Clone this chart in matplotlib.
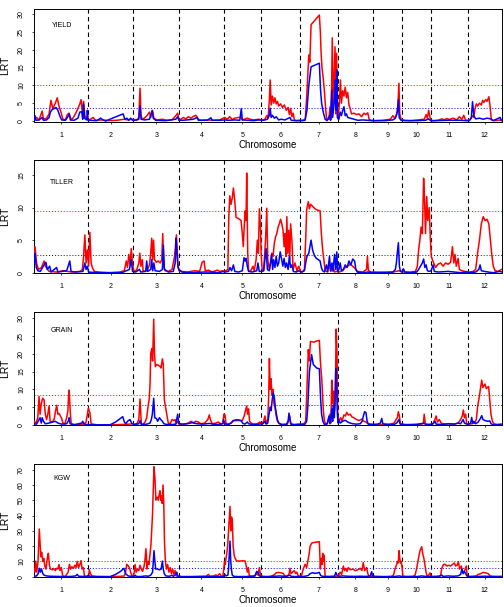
import numpy as np
import matplotlib
matplotlib.use("Agg")
import matplotlib.pyplot as plt

plt.rcParams['font.family'] = ['Liberation Sans', 'DejaVu Sans']

# 水稻12条染色体长度 (Mb)
chrom_len = [43.3, 35.9, 36.4, 35.5, 29.9, 31.2, 29.7, 28.4, 23.0, 23.2, 29.0, 27.5]
chrom_names = [str(i) for i in range(1, 13)]

# 每个性状: (累计位置 Mb, LRT)
yield_red = [(0, 0.5), (2, 1.0), (4, 0.3), (6.5, 2.8), (7.5, 0.5), (10, 0.8), (12, 2.0), (13.5, 5.8), (15, 3.5),
             (17, 5.0), (18.5, 6.5), (20, 4.0), (21.5, 2.5), (23, 0.5), (25, 0.3), (26.5, 1.8), (28, 2.2), (29.5, 0.3),
             (31, 0.8), (33, 2.0), (35, 3.5), (36.5, 4.8), (37.5, 6.0), (38.5, 2.5), (39.5, 5.5), (40.5, 1.5),
             (41.5, 0.8), (43, 0.3),
             (45, 0.5), (47, 1.0), (49, 0.2), (55, 0.3), (60, 0.1), (66, 0.2), (72, 0.5), (75, 0.3), (78, 0.5),
             (80, 0.3), (82, 0.2), (83.5, 1.0), (84.5, 9.2), (85.2, 2.0), (86, 0.5), (88, 0.8), (90, 1.5), (92, 2.5),
             (93, 1.0), (94.5, 2.8), (95.5, 0.8), (98, 0.3), (102, 0.5), (106, 0.2), (110, 0.3), (113, 1.5),
             (114.5, 2.2), (115.5, 0.3),
             (117, 0.5), (119, 1.0), (121, 0.6), (123, 1.2), (125, 0.8), (127, 1.3), (129, 1.6), (131, 0.5),
             (133, 0.2), (138, 0.3), (143, 0.2), (148, 0.3),
             (152, 1.0), (154, 0.5), (156, 1.2), (158, 0.4), (160, 0.8), (163, 1.0), (165, 1.0), (166, 0.3),
             (170, 0.8), (172, 0.5), (175, 0.3), (179, 0.5),
             (182, 0.2), (184, 0.5), (185.5, 1.5), (186.5, 0.8), (187.5, 5.5), (188.2, 11.5), (189, 4.5), (190, 7.0),
             (191, 5.0), (192, 6.5), (193, 4.8), (194, 5.5), (195, 4.2), (196.5, 4.8), (198, 3.8), (199.5, 4.5),
             (201, 3.0), (202.5, 3.8), (203.5, 1.8), (204.5, 3.5), (205.5, 1.2), (206.5, 2.2), (207.5, 0.3),
             (209, 0.1), (211, 0.2),
             (213, 0.2), (215, 0.3), (216.2, 0.5), (217.5, 8.0), (219, 18.5), (219.8, 16.5), (220.8, 27.0),
             (227.4, 29.7), (228.2, 25.0), (228.8, 19.0), (229.5, 15.0), (230.5, 12.0), (231.5, 8.0), (232.5, 3.0),
             (233.3, 0.3), (235, 0.5), (236, 4.0), (236.8, 0.5), (237.7, 23.3), (238.4, 3.0), (239.2, 12.0),
             (239.9, 20.8), (240.5, 2.0), (241.2, 19.0), (241.8, 1.0),
             (242.5, 0.5), (243.5, 6.0), (244.2, 11.5), (245, 5.0), (246, 8.5), (247, 7.0), (248, 9.5), (249, 6.5),
             (250, 8.0), (251, 4.5), (252, 3.5), (253, 2.0), (255, 2.2), (257, 1.8), (259, 2.0), (261, 1.2),
             (263, 2.2), (264.5, 1.8), (266, 2.3), (267, 0.5), (268.5, 0.2),
             (272, 0.1), (278, 0.2), (284, 0.5), (286, 1.5), (287.5, 0.8), (289, 1.8), (290, 4.0), (290.8, 10.6),
             (291.5, 2.0), (292.5, 0.5),
             (295, 0.2), (300, 0.1), (306, 0.3), (311, 0.5), (312.5, 1.8), (313.5, 0.8), (314.5, 3.0), (315.5, 1.2),
             (316.3, 0.2),
             (318, 0.1), (322, 0.2), (325, 0.6), (327, 0.3), (329, 0.7), (331, 0.4), (334, 0.8), (337, 0.3),
             (339, 1.2), (341, 0.5), (342.5, 1.6), (344, 0.2),
             (346, 0.2), (348, 0.5), (349.5, 1.5), (350.5, 1.0), (351.5, 3.5), (352.5, 4.8), (353.5, 4.2), (355, 5.0),
             (356.5, 4.5), (357.5, 5.8), (358.5, 5.2), (360, 6.0), (361, 5.5), (362.5, 6.8), (363.5, 4.0),
             (364.5, 0.3), (367, 0.1), (370, 0.2), (372.5, 0.3)]
yield_blue = [(0, 0.2), (0.8, 1.5), (1.5, 0.2), (4, 0.3), (6.5, 1.0), (7.5, 0.2), (10, 0.3), (12, 1.0), (13, 2.5),
              (14.5, 3.2), (16, 3.5), (17.5, 3.8), (19, 3.0), (20.5, 1.5), (22, 0.3), (25, 0.2), (27, 1.2), (28, 2.0),
              (29, 0.3), (32, 0.2), (35, 0.8), (36.5, 2.5), (38, 2.6), (38.8, 0.5), (39.5, 4.8), (40.2, 0.8),
              (42, 0.3), (42.5, 3.0), (43.2, 0.2),
              (50, 0.1), (53, 0.8), (55, 0.3), (57, 0.0), (71, 2.0), (72.5, 0.4), (74, 0.8), (75.5, 0.2), (77, 0.8),
              (78.5, 0.2),
              (80, 0.2), (83.5, 0.5), (84.5, 4.3), (85.3, 0.5), (88, 0.3), (92, 0.5), (94.2, 3.0), (95, 0.8),
              (97, 0.2), (105, 0.1), (113, 0.5), (114.5, 1.2), (115.5, 0.2),
              (118, 0.2), (122, 0.3), (127, 0.5), (130, 1.0), (131, 0.2), (138, 0.2), (141, 0.9), (142, 0.2),
              (148, 0.2),
              (152, 0.3), (155, 0.2), (160, 0.3), (164, 0.2), (165.2, 3.5), (166, 0.3), (170, 0.2), (175, 0.1),
              (179, 0.3),
              (183, 0.2), (186, 0.5), (187.5, 1.5), (188.2, 3.6), (189, 1.0), (190, 1.6), (191.5, 0.8), (193, 1.2),
              (195, 0.3), (197, 0.5), (200, 0.3), (204, 1.0), (205, 0.2), (208, 0.1),
              (214, 0.1), (216, 0.2), (217.5, 3.0), (219, 10.0), (220.8, 15.2), (227.4, 16.2), (228.3, 9.0),
              (229.2, 5.0), (230.5, 2.5), (232, 0.5), (233.5, 0.1), (235.5, 1.5), (236.3, 0.2), (237.3, 8.7),
              (238, 1.0), (239.5, 6.0), (240.2, 11.5), (240.8, 3.0), (241.3, 14.3), (241.9, 1.0),
              (243, 0.5), (244, 2.5), (245, 1.5), (246, 3.0), (247, 4.0), (248, 1.5), (249, 2.0), (250, 1.0),
              (252, 0.8), (255, 0.5), (258, 0.2), (262, 0.3), (266, 0.2), (269, 0.1),
              (272, 0.1), (280, 0.1), (286, 0.3), (288, 0.8), (289.5, 2.5), (290.4, 6.0), (291, 1.0), (292.5, 0.2),
              (296, 0.1), (305, 0.1), (312, 0.2), (314.5, 0.6), (316, 0.1),
              (320, 0.1), (330, 0.2), (340, 0.2), (344, 0.1),
              (347, 0.1), (348.5, 1.0), (349.5, 5.4), (350.5, 1.5), (352, 0.6), (355, 0.8), (358, 0.5), (361, 0.8),
              (364, 0.6), (366, 0.1), (371.5, 1.0), (372.5, 0.1)]

tiller_red = [(0, 3.0), (0.8, 4.0), (2, 1.5), (3.5, 0.5), (6, 0.8), (8, 1.8), (9, 1.0), (12, 0.2), (18, 0.1),
              (23, 0.3), (30, 0.1), (37, 0.2), (38.5, 0.5), (39.5, 2.5), (40.5, 5.8), (41.5, 1.5), (42.5, 3.5),
              (43.5, 1.0), (44.5, 6.2), (45.5, 1.5), (46.5, 0.8), (48, 0.2),
              (52, 0.1), (60, 0.0), (68, 0.1), (72, 0.3), (73.5, 1.8), (74.5, 0.8), (75.5, 2.8), (76.5, 1.2),
              (77.5, 3.7), (78.5, 1.5), (79.5, 0.3),
              (80.5, 0.2), (82, 0.5), (83.5, 1.5), (84.3, 3.0), (85.2, 1.0), (86.3, 2.0), (87, 0.2), (90, 0.3),
              (92, 1.2), (93, 3.0), (93.8, 5.3), (94.5, 2.0), (95.3, 5.0), (96, 2.0), (97.5, 1.6), (99, 1.8),
              (100.5, 1.5), (101.8, 2.0), (102.6, 6.0), (103.4, 1.0), (104.5, 0.3), (107, 0.2), (110, 0.5),
              (112, 2.5), (113.5, 5.8), (114.5, 1.5), (115.5, 0.3),
              (117, 0.2), (122, 0.1), (128, 0.3), (132, 0.2), (134, 1.6), (135.5, 1.8), (136.5, 0.3), (139, 0.4),
              (142, 0.1), (146, 0.4), (148, 0.2), (150.5, 0.3),
              (151.5, 0.2), (153, 0.3), (154.5, 0.5), (155.2, 8.4), (156, 11.8), (157, 10.5), (158, 11.5),
              (158.9, 13.0), (160, 11.0), (161, 8.5), (163, 8.3), (165, 8.0), (166, 6.0), (166.8, 4.0), (167.5, 7.0),
              (168.3, 9.5), (169, 8.0), (169.5, 15.3), (170.3, 3.0), (171, 0.3), (172.5, 0.2), (174.5, 1.0),
              (175.5, 0.3), (177, 2.0), (178, 5.0), (178.8, 3.0), (179.6, 9.8), (180.5, 7.0),
              (181, 3.0), (181.8, 0.5), (183, 0.3), (184.5, 5.0), (185.5, 9.9), (186.3, 2.0), (187.5, 0.5),
              (188.5, 1.5), (189.5, 3.0), (190.5, 2.5), (191.5, 4.5), (192.5, 5.5), (193.5, 6.0), (194.5, 7.0),
              (195.5, 7.5), (196.5, 8.2), (197.5, 7.5), (198.5, 6.5), (199.3, 4.0), (200, 6.0), (200.8, 2.5),
              (201.5, 8.6), (202.2, 3.0), (203, 6.5), (203.8, 2.0), (204.5, 7.5), (205.5, 5.0), (206.5, 0.5),
              (208, 1.5), (209.5, 0.3), (211, 1.0),
              (212.5, 0.2), (214, 0.1), (215.5, 0.5), (216.5, 5.0), (217.3, 9.7), (218.6, 10.9), (219.5, 9.8),
              (220.5, 10.5), (222, 10.2), (224, 9.8), (226, 9.6), (228, 9.5), (229, 6.0), (230, 3.5), (231, 2.0),
              (232, 0.3), (234, 0.1), (235.4, 1.5), (236.5, 0.2), (238.4, 1.0), (239.5, 0.1), (241, 0.2),
              (243, 0.1), (246, 0.3), (248, 0.8), (250, 1.0), (252, 1.3), (254, 1.0), (256, 0.6), (258, 0.2),
              (262, 0.1), (265, 0.5), (265.7, 2.5), (266.5, 0.3), (269, 0.1),
              (272, 0.1), (280, 0.1), (286, 0.1), (291, 0.3), (293, 0.2),
              (295, 0.1), (300, 0.1), (304, 0.2), (305.5, 1.0), (306.5, 3.5), (307.5, 5.0), (308.5, 7.0),
              (309.5, 6.0), (310.5, 14.5), (311.3, 11.0), (312, 6.0), (313, 11.7), (313.8, 8.0), (315, 10.0),
              (315.8, 5.5), (316.6, 2.5), (317.5, 2.0), (318.5, 1.5),
              (320, 0.8), (322, 1.3), (324, 1.5), (326, 1.0), (328, 1.5), (330, 1.3), (332, 1.6), (333.5, 4.0),
              (334.5, 1.5), (335.5, 2.8), (336.5, 1.0), (338, 2.2), (339, 0.5), (341, 0.3), (343.5, 0.2),
              (347, 0.1), (350, 0.2), (352, 0.5), (353.5, 3.0), (355, 5.0), (356.5, 7.5), (358, 8.6), (359.5, 8.0),
              (361, 8.2), (362.5, 7.5), (363.5, 5.5), (364.7, 3.0), (366, 1.0), (367.5, 0.3), (370, 0.2),
              (372.5, 0.5)]
tiller_blue = [(0, 1.5), (0.8, 3.0), (1.8, 0.8), (3, 0.3), (5, 0.2), (8, 1.2), (9.5, 1.6), (10.5, 0.5),
               (12.5, 1.0), (13.5, 0.1), (18, 0.8), (19, 0.1), (26, 0.3), (27.5, 1.2), (28.5, 1.8), (29.5, 0.2),
               (33, 0.1), (39, 0.2), (40.5, 1.5), (41.5, 0.5), (42.5, 1.0), (43.5, 0.1),
               (50, 0.0), (60, 0.0), (70, 0.0), (76, 0.5), (77.5, 2.0), (78.5, 0.2),
               (81, 0.1), (84, 0.5), (85, 0.1), (89, 0.2), (89.8, 1.8), (90.6, 0.2), (93, 0.5), (93.8, 2.0),
               (94.6, 0.3), (95.5, 1.5), (96.5, 0.3), (100, 0.2), (102.3, 0.5), (103.1, 4.2), (103.9, 0.5),
               (107, 0.1), (111, 0.2), (112.5, 1.5), (113.3, 5.3), (114, 3.0), (114.8, 0.8), (115.5, 0.5),
               (118, 0.1), (125, 0.0), (135, 0.1), (140, 0.1), (148, 0.0), (150.5, 0.2),
               (152, 0.1), (155, 0.2), (156.2, 0.8), (157.5, 0.3), (158.9, 1.2), (160, 0.2), (163, 0.1), (166, 0.3),
               (167.4, 2.3), (168.3, 1.8), (169, 2.2), (170, 1.0), (171, 0.2), (174, 0.1), (177.5, 0.3),
               (178.5, 1.5), (179.5, 0.2),
               (181.5, 0.2), (183, 0.3), (185, 3.7), (186, 0.5), (187.5, 0.3), (188.5, 1.5), (189.4, 2.8),
               (190.2, 0.5), (191, 2.0), (192, 0.8), (193, 2.5), (194, 1.0), (195, 1.5), (196.2, 3.2), (197.4, 2.0),
               (198.3, 1.0), (199.3, 2.2), (200.3, 0.8), (201.3, 1.5), (202.5, 0.5), (203.5, 2.5), (204.5, 0.8),
               (205.5, 1.2), (206.7, 0.2), (209, 0.1), (211, 0.3),
               (213, 0.1), (215.5, 0.3), (216.5, 1.5), (217.5, 2.5), (219, 3.0), (220.8, 5.0), (222, 3.5),
               (223.5, 2.6), (225, 2.2), (226.6, 2.0), (228, 1.8), (229, 0.8), (230, 0.3), (231.5, 0.1), (233, 1.2),
               (234, 0.2), (235.5, 2.5), (236.3, 0.3), (237.5, 1.5), (238.3, 0.2), (239.5, 2.8), (240.5, 0.5),
               (241.3, 3.2), (242, 0.2),
               (243, 0.5), (244, 1.5), (245, 0.3), (246.5, 0.5), (248, 1.2), (249.5, 0.8), (251, 1.8), (252.5, 1.2),
               (254, 2.1), (255.5, 1.8), (256.5, 0.5), (257.5, 0.1), (262, 0.0), (266, 0.1), (269, 0.0),
               (272, 0.0), (280, 0.0), (286, 0.1), (288, 0.5), (288.8, 1.5), (289.5, 3.0), (290.4, 4.6),
               (291.2, 1.0), (292, 0.2), (293.3, 0.1),
               (294.4, 0.6), (295.5, 0.1), (300, 0.0), (305, 0.1), (306.5, 0.5), (308, 1.0), (309.5, 1.5),
               (310.5, 2.1), (311.5, 0.8), (312.5, 1.2), (313.5, 0.3), (315, 0.2), (316.5, 0.3), (318, 1.2),
               (319, 0.2),
               (322, 0.1), (330, 0.2), (335, 0.1), (340, 0.0), (345, 0.1),
               (347, 0.0), (352, 0.1), (354.5, 0.5), (355.5, 1.2), (356.5, 0.3), (359, 0.2), (362, 0.1), (366, 0.0),
               (371, 0.2), (373, 0.1)]

grain_red = [(0, 1.0), (1.5, 0.5), (3, 2.0), (4, 8.0), (4.8, 3.0), (5.8, 6.0), (6.9, 7.5), (8, 7.0), (9, 3.0),
             (10, 1.5), (11, 3.0), (12, 5.3), (12.8, 1.0), (14.5, 0.8), (16, 1.5), (17.2, 4.0), (18.1, 5.5),
             (19, 3.0), (20, 3.2), (21, 2.5), (22, 1.8), (23, 0.5), (24.5, 0.2), (26, 2.0), (27, 4.0), (27.5, 8.0),
             (28, 9.8), (28.8, 4.0), (29.6, 0.3), (32, 0.1), (37, 0.1), (40, 0.3), (41.5, 0.8), (42.5, 3.0),
             (43.3, 4.7), (44.5, 3.5), (45.5, 0.3),
             (50, 0.0), (60, 0.0), (70, 0.1), (76, 0.2), (78.5, 0.3),
             (80, 0.2), (82, 0.3), (83.5, 1.5), (84.5, 7.3), (85.5, 0.3), (87, 0.2), (88.5, 0.8), (89.8, 2.0),
             (90.8, 5.0), (91.9, 7.5), (92.5, 12.0), (93, 20.0), (93.8, 21.5), (94.5, 18.0), (95.4, 29.8),
             (96, 20.0), (96.7, 16.4), (97.8, 17.0), (99, 16.8), (100.4, 16.5), (101.2, 16.0), (102.3, 18.6),
             (103, 17.0), (103.9, 7.0), (104.8, 5.0), (105.8, 3.0), (107, 0.5), (108.5, 0.3), (110, 1.5),
             (111.5, 1.2), (112.5, 1.5), (113.5, 0.4), (114.8, 1.0), (115.5, 0.2),
             (117, 0.1), (120, 0.2), (123, 0.5), (125, 1.0), (127, 0.6), (129, 1.0), (131, 0.8), (133, 0.3),
             (136, 0.5), (138.5, 1.5), (139.7, 2.8), (140.5, 1.5), (142, 0.3), (145, 0.5), (147, 0.8), (149, 0.2),
             (150.5, 0.5),
             (151.3, 3.0), (152.2, 2.8), (153, 0.3), (155, 0.2), (157, 0.5), (158.6, 1.2), (162, 1.2), (166, 1.2),
             (167.5, 2.5), (168.5, 4.0), (169.5, 5.3), (170.2, 3.0), (171, 4.5), (171.8, 1.0), (173, 0.5),
             (175, 0.2), (178, 0.3), (180, 0.8),
             (181.5, 0.3), (183, 1.0), (184, 2.5), (185, 0.5), (186.3, 1.5), (187, 8.0), (187.6, 18.7),
             (188.2, 10.0), (188.9, 13.0), (189.6, 8.5), (190.4, 10.0), (191.2, 6.0), (192, 5.0), (193, 2.5),
             (194, 1.0), (195.5, 0.3), (198, 0.1), (202, 0.2), (203, 1.5), (203.8, 2.5), (204.5, 0.3), (207, 0.1),
             (210, 0.2),
             (213, 0.2), (215, 0.3), (216.5, 1.0), (217.3, 8.0), (218, 15.0), (218.6, 21.2), (219.4, 18.0),
             (220.3, 23.5), (223, 23.3), (225, 23.6), (227.4, 23.8), (228.2, 18.0), (229.3, 13.0), (230, 8.0),
             (230.6, 4.0), (231.5, 1.0), (232.5, 0.2), (234, 0.5), (235.9, 3.0), (236.6, 0.5), (237.3, 12.6),
             (238.1, 6.0), (238.8, 9.5), (239.6, 4.0), (240.2, 10.0), (240.8, 27.0), (241.5, 20.0), (242, 3.0),
             (243, 1.0), (244.5, 2.0), (245.5, 1.0), (247, 2.8), (248.2, 2.5), (249.2, 3.5), (250.5, 2.8),
             (252, 3.0), (253.5, 2.2), (255, 2.0), (257, 1.5), (259, 1.2), (261, 1.6), (263, 1.0), (264.5, 0.8),
             (266, 0.3), (268, 0.2),
             (272, 0.1), (278, 0.1), (284, 0.2), (287, 0.5), (288.5, 1.5), (289.5, 2.0), (290.4, 3.7),
             (291.2, 2.5), (292, 0.4), (293, 0.2),
             (296, 0.1), (302, 0.1), (308, 0.2), (310.2, 0.3), (311, 3.0), (311.8, 0.3), (314, 0.1), (316.5, 0.2),
             (318, 0.3), (319.5, 1.5), (320.5, 2.5), (321.5, 0.8), (323, 1.5), (324.5, 0.5), (327, 0.2),
             (331, 0.3), (335, 0.2), (338, 0.5), (340, 1.5), (341.3, 2.5), (342.2, 4.2), (343, 2.0), (344, 3.0),
             (344.8, 0.3),
             (346, 0.2), (349, 0.3), (351, 0.5), (352.5, 1.5), (353.5, 5.0), (354.9, 8.0), (355.7, 10.0),
             (356.8, 12.6), (357.7, 10.5), (358.5, 11.0), (359.4, 11.5), (360.5, 10.2), (361.5, 10.6),
             (362.3, 10.8), (363.2, 7.0), (364.2, 3.0), (365.3, 1.0), (366.6, 0.3), (369, 0.1), (372.5, 0.2)]
grain_blue = [(0, 0.3), (2, 0.2), (4, 1.5), (4.8, 2.0), (5.8, 0.5), (6.5, 2.0), (7.5, 1.0), (9, 0.3), (12, 0.5),
              (15, 0.8), (17, 1.0), (19, 0.5), (22, 0.2), (26, 0.3), (27.5, 1.2), (28, 2.0), (28.8, 0.3), (32, 0.0),
              (38, 0.5), (38.8, 1.0), (39.8, 0.2), (43, 0.1), (45, 0.0),
              (50, 0.0), (60.6, 0.0), (65, 0.8), (68, 1.6), (70.7, 2.3), (72, 0.8), (73.2, 0.3), (74.5, 1.0),
              (76.5, 1.5), (77.8, 0.5), (79, 0.2),
              (80, 0.1), (83.5, 0.3), (84.5, 1.2), (85.5, 0.1), (90, 0.2), (92.5, 0.5), (93.5, 1.5), (94.3, 3.0),
              (95.4, 7.5), (96.2, 2.0), (97.5, 1.8), (98.5, 1.0), (99.9, 2.0), (101, 1.5), (102.3, 1.0),
              (103.5, 0.3), (106, 0.1), (110, 0.1), (113, 0.2), (114.5, 3.0), (115.3, 0.4),
              (118, 0.2), (122, 0.3), (126, 0.6), (130, 0.3), (135, 0.2), (140, 0.4), (142.5, 0.2), (146, 0.1),
              (150.5, 0.3),
              (151, 1.5), (152, 0.3), (155, 0.1), (157, 0.5), (159, 1.2), (161, 1.4), (163, 1.4), (165, 1.2),
              (166.5, 0.4), (168, 0.2), (170, 0.8), (171, 0.3), (174, 0.1), (178, 0.1), (180.5, 0.3),
              (181.5, 0.1), (183, 0.5), (184, 1.0), (185, 0.2), (186.3, 0.5), (187.3, 3.0), (188.3, 5.0),
              (189, 4.0), (189.8, 7.0), (190.7, 9.0), (191.5, 7.8), (192.3, 5.0), (193.2, 3.0), (194, 1.5),
              (195, 0.5), (197, 0.1), (201, 0.1), (202.5, 1.0), (203.2, 3.3), (204, 1.5), (204.8, 0.2), (208, 0.0),
              (211, 0.1),
              (213, 0.1), (216, 0.2), (217.3, 1.0), (218.2, 5.0), (218.8, 10.0), (219.5, 15.0), (220.4, 17.5),
              (221.2, 19.8), (222.6, 17.0), (224, 16.5), (225.3, 16.0), (227.4, 15.8), (228.3, 8.0), (229.2, 3.0),
              (230.2, 1.0), (231.5, 0.1), (233.5, 0.2), (235.1, 2.5), (235.8, 0.3), (236.6, 2.0), (237.3, 4.5),
              (238, 1.0), (238.6, 5.6), (239.3, 2.0), (240, 8.0), (240.5, 15.9), (241.2, 10.0), (241.8, 3.0),
              (242.3, 0.5),
              (243, 1.5), (244, 0.5), (246, 1.0), (248, 1.3), (250, 0.8), (252, 0.5), (254, 0.3), (257, 0.2),
              (260, 0.3), (261.5, 1.0), (262.5, 2.5), (263.5, 3.7), (264.5, 3.5), (265.5, 1.0), (266.5, 0.2),
              (269, 0.1),
              (271, 0.1), (274, 0.2), (276, 0.5), (277.1, 1.8), (278, 0.3), (282, 0.1), (287, 0.1), (289, 0.5),
              (290.8, 1.5), (291.8, 0.2), (293, 0.1),
              (297, 0.0), (305, 0.1), (311, 0.5), (312, 0.1), (316.5, 0.1),
              (318, 0.3), (319.6, 1.0), (320.5, 0.2), (325, 0.1), (330, 0.3), (335, 0.2), (338, 0.5), (340, 0.3),
              (342, 1.5), (343, 0.5), (345, 0.2),
              (346, 0.1), (348, 0.5), (348.8, 2.1), (349.6, 0.5), (350.5, 1.0), (352, 0.3), (354, 0.8),
              (355.8, 1.8), (356.8, 2.6), (357.8, 1.5), (359.5, 1.2), (361.5, 1.0), (363.2, 1.1), (364.3, 0.3),
              (366, 0.0), (372, 0.1)]

kgw_red = [(0, 5.0), (0.8, 3.0), (1.4, 10.2), (2.2, 3.0), (3.2, 10.0), (4.2, 31.2), (4.9, 20.0), (5.4, 13.0),
           (6.1, 16.0), (7, 10.0), (7.8, 12.0), (8.6, 7.0), (9.5, 5.0), (10.6, 12.0), (11.4, 15.3), (12.2, 8.0),
           (13, 5.0), (14.5, 4.5), (15.5, 5.5), (17, 4.0), (18, 5.5), (19, 5.0), (19.9, 8.0), (20.7, 4.0),
           (21.8, 6.0), (22.9, 0.3), (25, 0.2), (27.2, 3.0), (28.2, 8.1), (29.2, 5.0), (30.2, 6.5), (31.5, 5.5),
           (32.5, 7.5), (33.5, 6.0), (34.5, 10.0), (35.5, 6.0), (36.5, 8.0), (37.5, 10.5), (38.3, 5.0),
           (39.3, 6.0), (40.2, 0.5), (42, 0.2),
           (43.5, 0.5), (44.1, 4.5), (45, 2.0), (46, 0.5), (50, 0.2), (60, 0.1), (68, 0.2), (72, 0.5), (73, 3.0),
           (73.9, 8.1), (75.2, 7.0), (76, 6.0), (77, 3.0), (78, 0.5), (79, 0.3),
           (80, 3.0), (80.5, 8.0), (81.5, 3.0), (82.5, 5.0), (83.5, 4.0), (84.5, 7.5), (85.5, 5.0), (86.5, 3.5),
           (87.5, 6.0), (88.3, 10.0), (89.2, 18.3), (90, 5.0), (90.8, 10.0), (91.6, 8.0), (92.5, 15.0),
           (93.2, 21.0), (93.8, 30.0), (94.4, 40.0), (95.1, 60.0), (95.6, 71.9), (96.3, 65.0), (97.2, 50.1),
           (98.2, 52.0), (99, 50.0), (99.8, 54.0), (100.4, 56.2), (101, 50.0), (101.6, 53.0), (102.1, 48.0),
           (102.8, 60.0), (103.4, 48.0), (104, 22.0), (104.7, 10.0), (105.5, 5.0), (106.5, 8.0), (107.5, 3.0),
           (108.5, 6.0), (109.5, 2.0), (110.5, 5.0), (111.5, 1.5), (112.4, 4.0), (113.2, 0.5), (115, 0.3),
           (118, 0.1), (125, 0.1), (132, 0.2), (137, 0.3), (139, 1.5), (140, 0.3), (143, 0.5), (145, 1.2),
           (146, 0.3), (148, 2.0), (149, 0.3), (150.5, 0.2),
           (151.2, 5.0), (151.8, 10.0), (152.4, 8.0), (153, 12.0), (153.6, 15.0), (154.3, 20.0), (154.9, 28.0),
           (155.6, 38.0), (156.2, 46.0), (156.8, 30.0), (157.4, 39.0), (158, 37.0), (158.7, 20.0), (159.5, 14.0),
           (160.3, 12.0), (161.5, 10.3), (164, 10.2), (166, 10.4), (168.2, 10.3), (169, 7.5), (170, 3.0),
           (170.8, 6.0), (171.6, 0.5), (174, 0.2), (176, 0.5), (177.5, 2.0), (178.5, 1.0), (179.6, 6.0),
           (180.5, 1.0),
           (182, 0.2), (186, 0.1), (189, 0.3), (191, 1.0), (193, 2.5), (195, 2.8), (197, 2.5), (198.7, 2.0),
           (200, 0.3), (202, 0.2), (203.3, 2.0), (204, 5.5), (204.8, 2.0), (206, 3.0), (207.5, 4.0), (208.5, 2.0),
           (209.5, 3.0), (210.5, 0.5), (211.5, 0.3),
           (213, 0.3), (214.6, 5.0), (216, 8.1), (217.3, 6.0), (218.6, 12.0), (219.3, 15.0), (220, 19.8),
           (221.3, 22.0), (224, 22.5), (227.4, 22.9), (228.2, 5.0), (228.8, 12.0), (229.5, 8.0), (230.1, 15.3),
           (230.7, 10.0), (231.2, 14.0), (232, 0.3), (234, 0.1), (238, 0.2), (241, 0.3),
           (242.5, 0.3), (243.9, 3.0), (245.2, 1.5), (246.5, 7.0), (247.5, 4.0), (248.5, 5.5), (249.5, 3.5),
           (250.5, 6.0), (252, 4.5), (254, 5.0), (256, 4.0), (258, 4.5), (260, 5.5), (261.3, 4.0), (262.4, 9.2),
           (263.5, 4.0), (265.1, 6.0), (266, 2.0), (267, 0.5), (269, 0.2),
           (271, 0.2), (276, 0.1), (282, 0.1), (286, 0.3), (286.8, 2.0), (287.7, 5.0), (288.5, 7.0), (289, 8.1),
           (289.6, 10.0), (290.3, 9.0), (290.9, 17.0), (291.5, 12.0), (292, 9.0), (292.6, 10.0), (293.2, 7.0),
           (294, 0.2), (298, 0.1), (302, 0.2), (303.7, 1.0), (304.8, 5.0), (306, 10.0), (307.6, 17.0),
           (309, 19.6), (309.8, 15.0), (310.7, 12.0), (311.5, 8.0), (312.4, 3.0), (313.3, 0.3), (314.6, 1.0),
           (315.6, 2.5), (316.3, 0.3),
           (318, 0.1), (322, 0.2), (324, 0.5), (325, 5.5), (326.3, 8.0), (327.6, 8.1), (329, 7.0), (330.5, 7.5),
           (332, 7.0), (333.5, 8.0), (335, 9.0), (336, 7.0), (337.2, 7.5), (338.2, 9.8), (339.2, 5.0),
           (340.5, 7.0), (341.5, 3.0), (343, 3.5), (344.5, 7.0), (345.3, 0.5),
           (347, 0.1), (350, 0.2), (352.5, 0.5), (354, 1.5), (356, 2.0), (358, 2.8), (360, 2.5), (362, 2.0),
           (363.5, 0.5), (365, 0.2), (370, 0.1), (372.5, 0.2)]
kgw_blue = [(0, 0.3), (2, 0.5), (3.3, 2.0), (4.2, 5.5), (5, 3.0), (6, 5.0), (7, 2.0), (8, 1.0), (10, 0.5),
            (13, 0.3), (18, 0.2), (25, 0.1), (30, 0.2), (33, 0.5), (34.5, 1.5), (35.5, 0.3), (38, 0.2), (42, 0.1),
            (43.3, 1.0), (44.5, 0.2), (50, 0.0), (60.6, 0.0), (65, 1.5), (69, 3.5), (71.7, 5.5), (73, 2.0),
            (75, 0.5), (77, 0.3), (79, 0.2),
            (80, 0.2), (80.5, 1.0), (81.5, 0.2), (85, 0.1), (89, 0.5), (91, 0.3), (93, 1.0), (94.5, 3.0),
            (95.6, 17.0), (96.3, 10.0), (97, 5.0), (98.5, 5.0), (100, 4.5), (101.3, 5.0), (102.3, 10.2),
            (103, 5.0), (103.8, 2.0), (105, 0.5), (108, 0.3), (110, 1.0), (111, 0.2), (113, 1.5), (113.7, 3.0),
            (114.5, 0.3),
            (118, 0.0), (125, 0.0), (135, 0.1), (145, 0.0), (150.5, 0.1),
            (151.5, 0.5), (152, 1.5), (153, 0.5), (154.5, 1.0), (155, 5.0), (155.7, 15.0), (156.2, 23.3),
            (156.8, 10.0), (157.3, 5.0), (158, 1.0), (159, 0.3), (162, 0.1), (168, 0.1), (172, 0.2), (176, 0.5),
            (177.5, 3.5), (178.8, 2.5), (179.6, 0.5), (180.5, 0.3),
            (182, 0.1), (186, 0.0), (192, 0.3), (196, 0.5), (200, 0.2), (204, 1.0), (205, 0.2), (209, 0.1),
            (211.5, 0.2),
            (213, 0.1), (216, 0.3), (218.6, 0.8), (220, 2.0), (222, 2.6), (224, 2.2), (226, 2.5), (227.4, 2.8),
            (228.3, 1.0), (229.5, 0.3), (232, 0.1), (236, 0.1), (239.5, 0.3), (240.5, 2.8), (241.5, 1.0),
            (243, 0.3), (246, 0.5), (250, 0.3), (255, 0.2), (260, 0.3), (265, 0.2), (268, 0.5), (269.1, 3.3),
            (269.8, 0.5),
            (272, 0.1), (280, 0.0), (288, 0.2), (291, 0.5), (293, 0.2),
            (296, 0.1), (305, 0.1), (309, 0.5), (312, 0.2), (316, 0.1),
            (318, 0.1), (322, 0.2), (325, 1.0), (326, 0.2), (330, 0.5), (334, 0.3), (338, 0.5), (340, 1.5),
            (341, 5.0), (342, 2.0), (343, 3.5), (344, 2.0), (345, 0.5),
            (347, 0.1), (355, 0.2), (360, 0.3), (365, 0.1), (372, 0.1)]

# 阈值 (红, 蓝)
yield_thr = (10.0, 3.55)
tiller_thr = (9.5, 2.7)
grain_thr = (8.4, 5.5)
kgw_thr = (10.1, 5.5)

panels = [
    ("YIELD", yield_red, yield_blue, yield_thr, (-0.28, 31.4), np.arange(0, 31, 5), 0.85),
    ("TILLER", tiller_red, tiller_blue, tiller_thr, (-0.05, 17.3), np.arange(0, 16, 5), 0.80),
    ("GRAIN", grain_red, grain_blue, grain_thr, (-0.05, 31.8), np.arange(0, 31, 5), 0.84),
    ("KGW", kgw_red, kgw_blue, kgw_thr, (-0.2, 73.7), np.arange(0, 71, 10), 0.875),
]

bounds = np.cumsum([0] + chrom_len)
mids = (bounds[:-1] + bounds[1:]) / 2

fig = plt.figure(figsize=(5.04, 6.07), dpi=100)
bottoms = [0.799, 0.5502, 0.2998, 0.0494]

for (name, red, blue, thr, ylim, yticks, label_y), b in zip(panels, bottoms):
    ax = fig.add_axes([0.0675, b, 0.9286, 0.1862])
    r = np.array(red)
    bl = np.array(blue)
    ax.plot(r[:, 0], r[:, 1], color='#ff0000', lw=1.1, zorder=3)
    ax.plot(bl[:, 0], bl[:, 1], color='#0000ff', lw=1.1, zorder=4)
    ax.axhline(thr[0], color='#ff0000', ls=(0, (1, 2)), lw=0.7, zorder=2)
    ax.axhline(thr[1], color='#0000ff', ls=(0, (1, 2)), lw=0.7, zorder=2)
    for x in bounds[1:-1]:
        ax.axvline(x, color='black', ls=(0, (4, 3)), lw=0.8, zorder=1)

    ax.set_xlim(0, bounds[-1])
    ax.set_ylim(*ylim)
    ax.set_xticks(mids)
    ax.set_xticklabels(chrom_names)
    ax.set_yticks(yticks)
    ax.tick_params(axis='x', labelsize=5, length=1.5, width=0.5, pad=5.5)
    ax.tick_params(axis='y', labelsize=5, length=1.5, width=0.5, pad=5, labelrotation=90)
    for t in ax.get_yticklabels():
        t.set_va('center')
    for s in ax.spines.values():
        s.set_linewidth(0.7)

    ax.set_xlabel("Chromosome", fontsize=7)
    ax.xaxis.set_label_coords(0.5, -0.16)
    ax.set_ylabel("LRT", fontsize=7.5)
    ax.yaxis.set_label_coords(-0.051, 0.5)
    ax.text(0.06, label_y, name, transform=ax.transAxes, fontsize=5, ha='center', va='center')

fig.savefig("out.png", dpi=100)
